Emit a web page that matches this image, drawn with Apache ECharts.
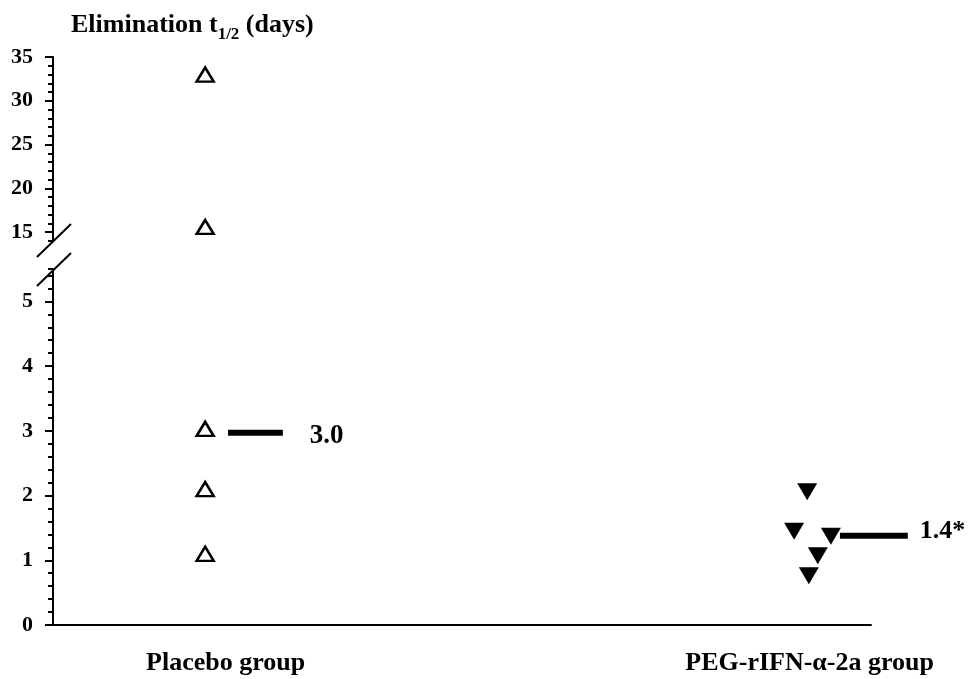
<!DOCTYPE html>
<html>
<head>
<meta charset="utf-8">
<script src="https://cdn.jsdelivr.net/npm/echarts@6/dist/echarts.min.js"></script>
<style>html,body{margin:0;padding:0;background:#fff}#c{width:971px;height:679px}</style>
</head>
<body>
<div id="c"></div>
<script>
// ---- data ----
var categories = ['Placebo group', 'PEG-rIFN-\u03b1-2a group'];
var categoryX = [18.6, 92.5];               // x position of each group (0-100 horizontal scale)
var categoryLabelX = [21.1, 92.5];          // where each group name is centred
var placeboValues = [33.0, 15.6, 3.03, 2.1, 1.1];
var placeboJitter = [0, 0, 0, 0, 0];
var pegValues = [2.06, 1.45, 1.37, 1.07, 0.76];
var pegJitter = [-0.3, -1.9, 2.6, 1.0, -0.1];
var means = [2.97, 1.38];
var meanLabels = ['3.0', '1.4*'];
var meanSpan = [[21.4, 28.1], [96.2, 104.5]];
var lowerTicks = [0, 1, 2, 3, 4, 5];
var upperTicks = [15, 20, 25, 30, 35];
var lowerRange = [0, 5.5];
var upperRange = [14, 35];

var FONT = '"Liberation Serif", "Times New Roman", serif';

function pts(vals, jit, cx, inUpper) {
  var out = [];
  vals.forEach(function (v, i) {
    var up = v > lowerRange[1];
    if (up === inUpper) out.push([cx + jit[i], v]);
  });
  return out;
}

var chart = echarts.init(document.getElementById('c'), null, {renderer: 'canvas'});

var gridL = 53, gridW = 818;
var tickLabel = {fontFamily: FONT, fontWeight: 'bold', fontSize: 22, color: '#000', margin: 20};

var option = {
  animation: false,
  backgroundColor: '#fff',
  title: {
    left: 66, top: 1,
    text: '{a|Elimination t}{s|1/2}{a| (days)}',
    textStyle: {
      rich: {
        a: {fontFamily: FONT, fontWeight: 'bold', fontSize: 26, color: '#000', lineHeight: 32, verticalAlign: 'bottom'},
        s: {fontFamily: FONT, fontWeight: 'bold', fontSize: 17, color: '#000', lineHeight: 24, verticalAlign: 'bottom', padding: [0, 0, -5, 0]}
      }
    }
  },
  grid: [
    {left: gridL, width: gridW, top: 57, height: 184},
    {left: gridL, width: gridW, top: 269, height: 356},
    {left: gridL, width: gridW * 1.1, top: 269, height: 356}
  ],
  xAxis: [
    {gridIndex: 0, type: 'value', min: 0, max: 100, show: false},
    {gridIndex: 1, type: 'value', min: 0, max: 100,
      axisLine: {show: true, onZero: false, lineStyle: {color: '#000', width: 2}},
      axisTick: {show: false}, splitLine: {show: false},
      axisLabel: {customValues: categoryLabelX, fontFamily: FONT, fontWeight: 'bold', fontSize: 26, color: '#000', margin: 25,
        formatter: function (v) { var i = categoryLabelX.indexOf(v); return i >= 0 ? categories[i] : ''; }}
    },
    {gridIndex: 2, type: 'value', min: 0, max: 110, show: false}
  ],
  yAxis: [
    {gridIndex: 0, type: 'value', min: upperRange[0], max: upperRange[1],
      axisLine: {show: true, onZero: false, lineStyle: {color: '#000', width: 2}},
      axisTick: {show: true, customValues: upperTicks, length: 8, lineStyle: {color: '#000', width: 2}},
      axisLabel: Object.assign({customValues: upperTicks}, tickLabel),
      splitLine: {show: false}},
    {gridIndex: 0, type: 'value', min: upperRange[0], max: upperRange[1], interval: 1, position: 'left',
      axisLine: {show: false}, axisLabel: {show: false}, splitLine: {show: false},
      axisTick: {show: true, length: 5, lineStyle: {color: '#000', width: 2}}},
    {gridIndex: 1, type: 'value', min: lowerRange[0], max: lowerRange[1],
      axisLine: {show: true, onZero: false, lineStyle: {color: '#000', width: 2}},
      axisTick: {show: true, customValues: lowerTicks, length: 8, lineStyle: {color: '#000', width: 2}},
      axisLabel: Object.assign({customValues: lowerTicks}, tickLabel),
      splitLine: {show: false}},
    {gridIndex: 1, type: 'value', min: lowerRange[0], max: lowerRange[1], interval: 0.2, position: 'left',
      axisLine: {show: false}, axisLabel: {show: false}, splitLine: {show: false},
      axisTick: {show: true, length: 5, lineStyle: {color: '#000', width: 2}}},
    {gridIndex: 2, type: 'value', min: lowerRange[0], max: lowerRange[1], show: false}
  ],
  graphic: [
    {type: 'line', shape: {x1: 37, y1: 257, x2: 71, y2: 224}, style: {stroke: '#000', lineWidth: 2}},
    {type: 'line', shape: {x1: 37, y1: 286, x2: 71, y2: 253}, style: {stroke: '#000', lineWidth: 2}}
  ],
  series: [
    {type: 'scatter', xAxisIndex: 0, yAxisIndex: 0, data: pts(placeboValues, placeboJitter, categoryX[0], true),
      symbol: 'triangle', symbolSize: [17, 14], itemStyle: {color: '#fff', borderColor: '#000', borderWidth: 2.5, opacity: 1}},
    {type: 'scatter', xAxisIndex: 1, yAxisIndex: 2, data: pts(placeboValues, placeboJitter, categoryX[0], false),
      symbol: 'triangle', symbolSize: [17, 14], itemStyle: {color: '#fff', borderColor: '#000', borderWidth: 2.5, opacity: 1}},
    {type: 'scatter', xAxisIndex: 1, yAxisIndex: 2, data: pts(pegValues, pegJitter, categoryX[1], false),
      symbol: 'triangle', symbolRotate: 180, symbolSize: [20, 17], itemStyle: {color: '#000', opacity: 1}},
    {type: 'line', xAxisIndex: 2, yAxisIndex: 4, symbol: 'none',
      data: [[meanSpan[0][0], means[0]], [meanSpan[0][1], means[0]]],
      lineStyle: {color: '#000', width: 6},
      endLabel: {show: true, formatter: meanLabels[0], distance: 27, offset: [0, 3], fontFamily: FONT, fontWeight: 'bold', fontSize: 27, color: '#000'}},
    {type: 'line', xAxisIndex: 2, yAxisIndex: 4, symbol: 'none',
      data: [[meanSpan[1][0], means[1]], [meanSpan[1][1], means[1]]],
      lineStyle: {color: '#000', width: 6},
      endLabel: {show: true, formatter: meanLabels[1], distance: 12, offset: [0, -4], fontFamily: FONT, fontWeight: 'bold', fontSize: 26, color: '#000'}}
  ]
};
chart.setOption(option);
</script>
</body>
</html>
